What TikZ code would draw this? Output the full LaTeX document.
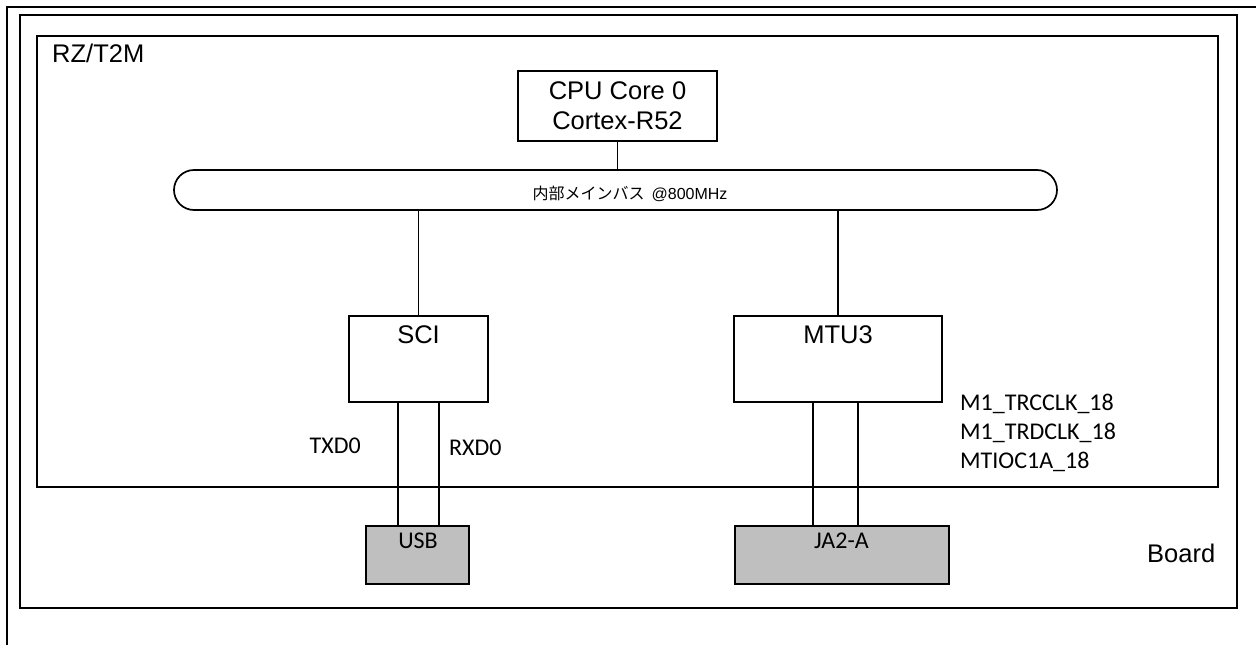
\documentclass[tikz,border=0pt]{standalone}
\usepackage{fontspec}
\setmainfont{Liberation Sans}
\newfontfamily\calfont{Carlito}
\newfontfamily\jpfont{Noto Sans CJK JP}
\usetikzlibrary{calc}
\begin{document}
\begin{tikzpicture}[x=1pt,y=-1pt,
  ln/.style={line width=1.7pt,draw=black},
  box/.style={ln,fill=white,inner sep=0pt,rectangle},
  conn/.style={fill=black!25,draw=black,line width=1.7pt,inner sep=0pt,rectangle},
  arial/.style={font=\fontsize{25.5}{30}\selectfont,inner sep=0pt},
  cal/.style={font=\calfont\fontsize{24}{29}\selectfont,inner sep=0pt},
  wire/.style={line width=1.7pt}]
\useasboundingbox (0,0) rectangle (1256,645);
\fill[white] (0,0) rectangle (1256,645);
% outer frame (cropped)
\draw[line width=1.4pt] (1256,7) -- (7,7) -- (7,645);
% board frame
\draw[ln] (20,15) rectangle (1237,608);
% RZ/T2M frame
\draw[ln] (37,36) rectangle (1218,487);
\node[arial,anchor=base west] (rz) at (52,62) {RZ/T2M};
\node[arial,anchor=base west] (board) at (1147,562) {Board};
% CPU
\node[box,minimum width=199,minimum height=70,align=center,
      font=\fontsize{25.5}{30}\selectfont] (cpu) at (617.5,106) {CPU Core 0\\Cortex-R52};
% bus
\node[box,rounded corners=20pt,minimum width=883,minimum height=40] (bus) at (615.5,190) {};
\node[inner sep=0pt,anchor=base] (bustxt) at (630,199)
  {\fontsize{16}{18}\selectfont\jpfont 内部メインバス\ \ \rmfamily @800MHz};
% SCI / MTU3
\node[box,minimum width=139,minimum height=86] (sci) at (418.5,359) {};
\node[arial,anchor=base] (scit) at (418.5,343) {SCI};
\node[box,minimum width=208,minimum height=86] (mtu) at (838,359) {};
\node[arial,anchor=base] (mtut) at (838,343) {MTU3};
% connectors
\node[conn,minimum width=103,minimum height=58] (usb) at (417.5,555) {};
\node[cal,anchor=base] (usbt) at (418,548) {USB};
\node[conn,minimum width=214,minimum height=58] (ja) at (842,555) {};
\node[cal,anchor=base] (jat) at (841.5,548) {JA2-A};
% wires
\draw[wire] (cpu.south) -- (cpu.south |- bus.north);
\draw[wire] (sci.north) -- (sci.north |- bus.south);
\draw[wire] (mtu.north) -- (mtu.north |- bus.south);
\coordinate (t1) at (398,402);
\coordinate (t2) at (439,402);
\coordinate (m1) at (813,402);
\coordinate (m2) at (858,402);
\draw[wire] (t1) -- (t1 |- usb.north);
\draw[wire] (t2) -- (t2 |- usb.north);
\draw[wire] (m1) -- (m1 |- ja.north);
\draw[wire] (m2) -- (m2 |- ja.north);
% labels
\node[cal,anchor=base east] (txd) at (361,453) {TXD0};
\node[cal,anchor=base west] (rxd) at (449,455) {RXD0};
\node[cal,anchor=base west] (l1) at (960,410) {M1\_TRCCLK\_18};
\node[cal,anchor=base west] (l2) at (960,439) {M1\_TRDCLK\_18};
\node[cal,anchor=base west] (l3) at (960,468) {MTIOC1A\_18};
\end{tikzpicture}
\end{document}
